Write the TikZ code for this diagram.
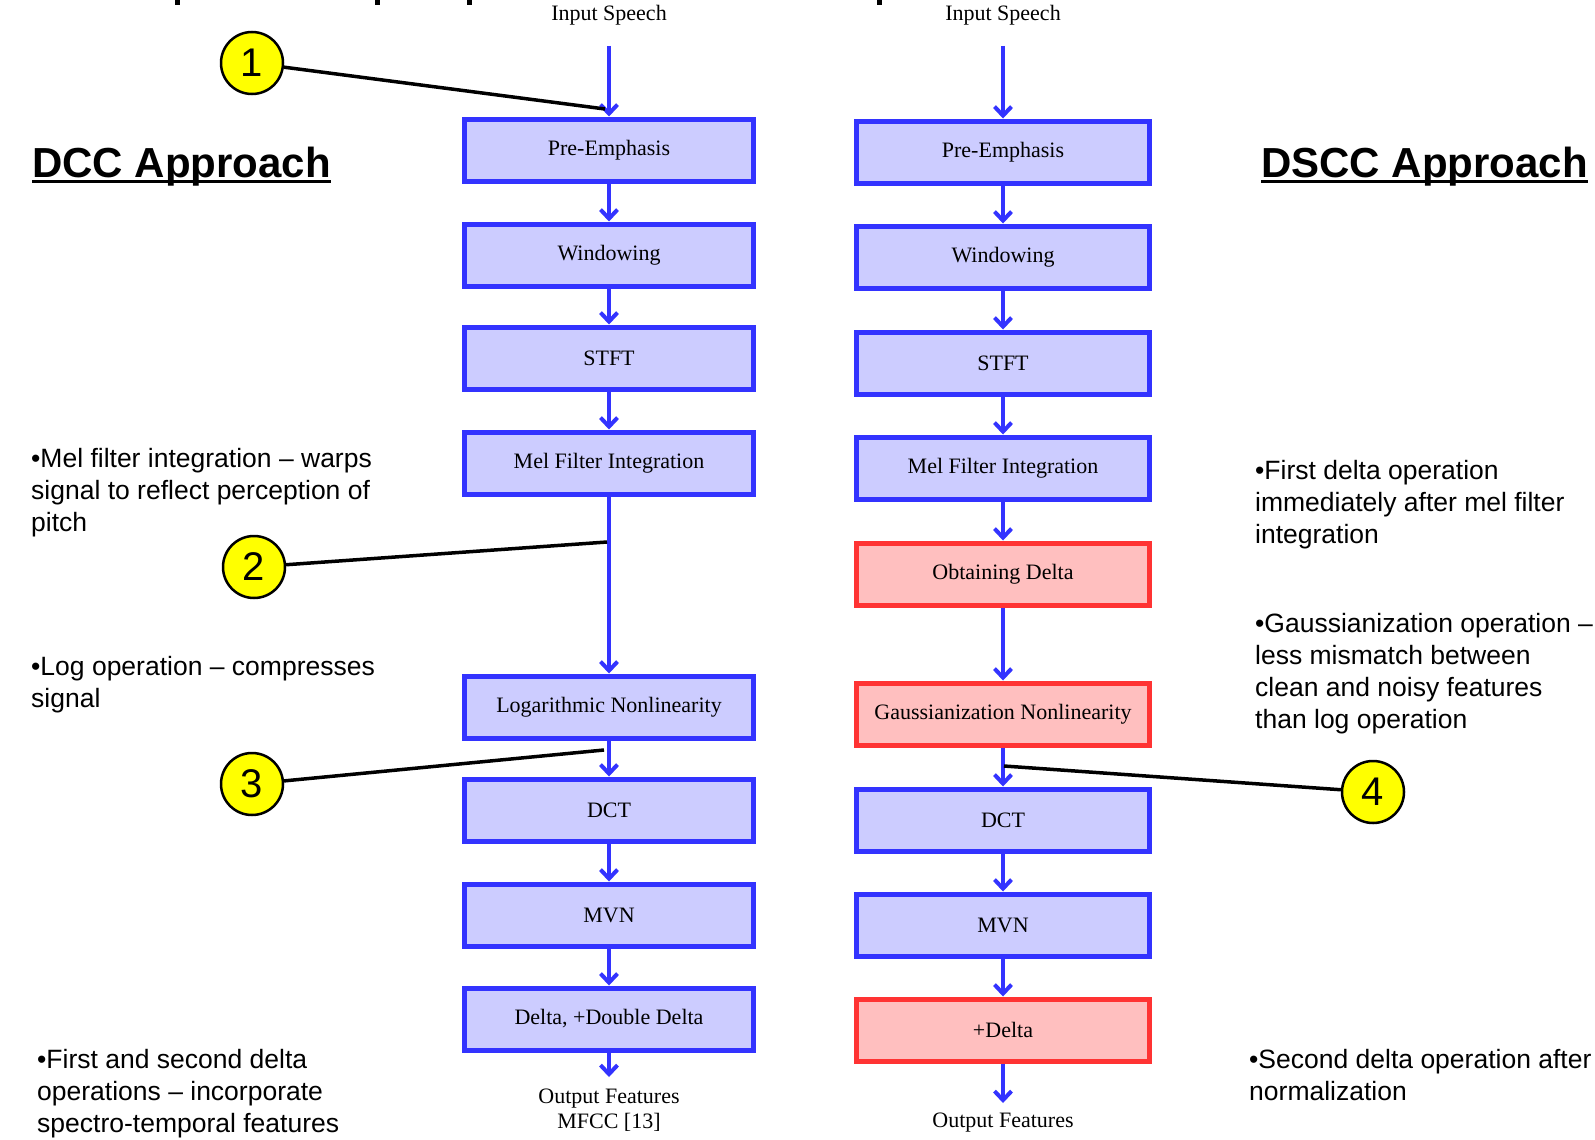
\documentclass[tikz,border=0pt]{standalone}
\usepackage{fontspec}
\setmainfont{Liberation Serif}
\setsansfont{Liberation Sans}
\usetikzlibrary{arrows.meta}
\definecolor{bbord}{HTML}{3333FF}
\definecolor{bfill}{HTML}{CCCCFF}
\definecolor{rbord}{HTML}{FF3333}
\definecolor{rfill}{HTML}{FFBFBF}
\definecolor{cyel}{HTML}{FFFF00}
\begin{document}
\begin{tikzpicture}[x=1pt,y=-1pt,
  blk/.style={draw=bbord, fill=bfill, line width=5pt, minimum width=289pt, minimum height=62pt, inner sep=0pt, font=\fontsize{22}{26}\selectfont},
  rblk/.style={blk, draw=rbord, fill=rfill},
  rwide/.style={minimum width=293pt},
  flow/.style={draw=bbord, line width=4pt, -{Straight Barb[length=9pt,width=17pt]}},
  serif/.style={inner sep=0pt, align=center, font=\fontsize{22}{25}\selectfont},
  note/.style={inner sep=0pt, anchor=base west, align=left, font=\sffamily\fontsize{26.5}{32}\selectfont},
  ttl/.style={inner sep=0pt, anchor=base west, font=\sffamily\bfseries\fontsize{42}{50}\selectfont},
  num/.style={circle, draw=black, fill=cyel, line width=2.5pt, minimum size=62pt, inner sep=0pt, font=\sffamily\fontsize{40}{40}\selectfont},
  callout/.style={draw=black, line width=3.5pt}]
\useasboundingbox (0,0) rectangle (1595,1140);
\fill[white] (0,0) rectangle (1595,1140);
% cut-off title fragments at top edge
\fill[black] (175,0) rectangle (180,5);
\fill[black] (375,0) rectangle (380,5);
\fill[black] (467,0) rectangle (472,5);
\fill[black] (877,0) rectangle (882,5);

% ---------- left column (DCC)
\node[serif] (lin) at (609,15) {Input Speech};
\coordinate (lins) at (609,46);
\node[blk] (lpre) at (609,150) {Pre-Emphasis};
\node[blk] (lwin) at (609,255) {Windowing};
\node[blk] (lstft) at (609,358) {STFT};
\node[blk] (lmel) at (609,463) {Mel Filter Integration};
\node[blk] (llog) at (609,707) {Logarithmic Nonlinearity};
\node[blk] (ldct) at (609,810) {DCT};
\node[blk] (lmvn) at (609,915) {MVN};
\node[blk] (ldel) at (609,1019) {Delta, +Double Delta};
\coordinate (lend) at (609,1077);
\node[serif] (lout) at (609,1110) {Output Features\\MFCC [13]};

\draw[flow] (lins) -- (lpre);
\draw[flow] (lpre) -- (lwin);
\draw[flow] (lwin) -- (lstft);
\draw[flow] (lstft) -- (lmel);
\draw[flow] (lmel) -- (llog);
\draw[flow] (llog) -- (ldct);
\draw[flow] (ldct) -- (lmvn);
\draw[flow] (lmvn) -- (ldel);
\draw[flow] (ldel) -- (lend);

% ---------- right column (DSCC)
\node[serif] (rin) at (1003,15) {Input Speech};
\coordinate (rins) at (1003,46);
\node[blk,rwide] (rpre) at (1003,152) {Pre-Emphasis};
\node[blk,rwide] (rwin) at (1003,257) {Windowing};
\node[blk,rwide] (rstft) at (1003,363) {STFT};
\node[blk,rwide] (rmel) at (1003,468) {Mel Filter Integration};
\node[rblk,rwide] (robt) at (1003,574) {Obtaining Delta};
\node[rblk,rwide] (rgau) at (1003,714) {Gaussianization Nonlinearity};
\node[blk,rwide] (rdct) at (1003,820) {DCT};
\node[blk,rwide] (rmvn) at (1003,925) {MVN};
\node[rblk,rwide] (rdel) at (1003,1030) {+Delta};
\coordinate (rend) at (1003,1103);
\node[serif] (rout) at (1003,1123) {Output Features};

\draw[flow] (rins) -- (rpre);
\draw[flow] (rpre) -- (rwin);
\draw[flow] (rwin) -- (rstft);
\draw[flow] (rstft) -- (rmel);
\draw[flow] (rmel) -- (robt);
\draw[flow] (robt) -- (rgau);
\draw[flow] (rgau) -- (rdct);
\draw[flow] (rdct) -- (rmvn);
\draw[flow] (rmvn) -- (rdel);
\draw[flow] (rdel) -- (rend);

% ---------- titles
\node[ttl] (tdcc) at (32,177) {DCC Approach};
\draw[line width=3pt] ([yshift=-4pt]tdcc.base west) -- ([yshift=-4pt]tdcc.base east);
\node[ttl] (tdscc) at (1261,177) {DSCC Approach};
\draw[line width=3pt] ([yshift=-4pt]tdscc.base west) -- ([yshift=-4pt]tdscc.base east);

% ---------- notes (anchor = baseline of last line)
\node[note] (n1) at (31,531) {•Mel filter integration – warps\\signal to reflect perception of\\pitch};
\node[note] (n2) at (31,707) {•Log operation – compresses\\signal};
\node[note] (n3) at (37,1132) {•First and second delta\\operations – incorporate\\spectro-temporal features};
\node[note] (n4) at (1255,543) {•First delta operation\\immediately after mel filter\\integration};
\node[note] (n5) at (1255,728) {•Gaussianization operation –\\less mismatch between\\clean and noisy features\\than log operation};
\node[note] (n6) at (1249,1100) {•Second delta operation after\\normalization};

% ---------- numbered callouts
\node[num] (c1) at (252,63) {1};
\node[num] (c2) at (254,567) {2};
\node[num] (c3) at (252,784) {3};
\node[num] (c4) at (1373,792) {4};
\coordinate (p1) at (605,109);
\coordinate (p2) at (607,542);
\coordinate (p3) at (604,750);
\coordinate (p4) at (1004,766);
\draw[callout] (c1) -- (p1);
\draw[callout] (c2) -- (p2);
\draw[callout] (c3) -- (p3);
\draw[callout] (c4) -- (p4);
\end{tikzpicture}
\end{document}
